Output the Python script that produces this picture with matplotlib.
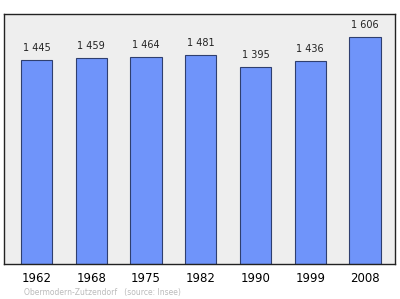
import numpy as np
import matplotlib.pyplot as plt

years = ["1962", "1968", "1975", "1982", "1990", "1999", "2008"]
population = [1445, 1459, 1464, 1481, 1395, 1436, 1606]
labels = ["1 445", "1 459", "1 464", "1 481", "1 395", "1 436", "1 606"]

fig = plt.figure(figsize=(4, 2.99), dpi=100)
ax = fig.add_axes([0.01, 0.1187, 0.9775, 0.834])
ax.set_facecolor("#eeeeee")

x = np.arange(len(years))
bars = ax.bar(x, population, width=0.57, color="#6f94fa",
              edgecolor="#2f3f6f", linewidth=0.8)

for b, lab in zip(bars, labels):
    ax.annotate(lab, (b.get_x() + b.get_width() / 2, b.get_height()),
                xytext=(0, 5), textcoords="offset points",
                ha="center", va="bottom", fontsize=7, color="#222222")

ax.set_xlim(-0.594, 6.548)
ax.set_ylim(0, 1770)
ax.set_yticks([])
ax.set_xticks(x)
ax.set_xticklabels(years, fontsize=8.5)
ax.tick_params(axis="x", length=0, pad=6)
for s in ax.spines.values():
    s.set_linewidth(1)
    s.set_color("#222222")

fig.text(0.06, 0.015, "Obermodern-Zutzendorf   (source: Insee)",
         fontsize=5.5, color="#bbbbbb", ha="left", va="baseline")

fig.savefig("out.png", dpi=100)
